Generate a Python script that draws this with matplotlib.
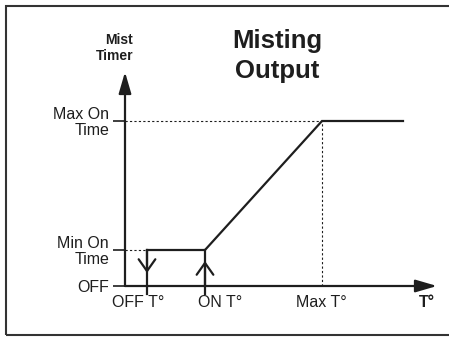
import matplotlib
matplotlib.use("Agg")
import matplotlib.pyplot as plt
from matplotlib.patches import Rectangle

plt.rcParams['font.family'] = ['Liberation Sans', 'DejaVu Sans']

# temperature set points along the x axis
temp_labels = ["OFF T°", "ON T°", "Max T°"]
temp_points = [2.2, 8.0, 19.7]
label_shift = [-6.5, 11.0, -0.7]   # horizontal nudge of each label, points

# mist timer levels on the y axis
timer_labels = ["OFF", "Min On\nTime", "Max On\nTime"]
timer_levels = [0.0, 3.6, 16.5]

# output curve: min on-time step, ramp, then max on-time plateau
curve_x = [2.2, 8.0, 19.7, 27.8]
curve_y = [3.6, 3.6, 16.5, 16.5]

x_end = 31.2
y_end = 21.4
stem_bottom = -0.8
off_arrow_tip = 1.3
on_arrow_tip = 2.5

ink = '#1e1e1e'

fig = plt.figure(figsize=(4.49, 3.37), dpi=100)
ax = fig.add_axes([125 / 449, 51 / 337, 312 / 449, 214 / 337])
ax.set_xlim(0, x_end)
ax.set_ylim(0, y_end)
for s in ax.spines.values():
    s.set_visible(False)
ax.patch.set_visible(False)

# axes with arrow heads
arrow_kw = dict(arrowstyle='-|>,head_length=1.3,head_width=0.38', lw=1.6,
                color=ink, shrinkA=0, shrinkB=0)
ax.annotate('', xy=(x_end, 0), xytext=(0, 0), arrowprops=arrow_kw, annotation_clip=False)
ax.annotate('', xy=(0, y_end), xytext=(0, 0), arrowprops=arrow_kw, annotation_clip=False)

# y ticks
ax.set_xticks([])
ax.set_yticks(timer_levels)
ax.set_yticklabels(timer_labels, fontsize=11.5, color=ink)
ax.tick_params(axis='y', direction='out', length=8.5, width=1.2, color=ink, pad=3)
plt.setp(ax.get_yticklabels(), linespacing=1.05)

off_t, on_t, max_t = temp_points
min_on, max_on = timer_levels[1], timer_levels[2]

# dotted guides
dot = dict(color=ink, lw=0.8, linestyle=(0, (2, 2)))
ax.plot([0, off_t], [min_on, min_on], **dot)
ax.plot([0, max_t], [max_on, max_on], **dot)
ax.plot([max_t, max_t], [0, max_on], **dot)

# output curve and the two switching stems
ax.plot(curve_x, curve_y, color=ink, lw=1.6, solid_joinstyle='miter')
ax.plot([off_t, off_t], [stem_bottom, min_on], color=ink, lw=1.6, clip_on=False)
ax.plot([on_t, on_t], [stem_bottom, min_on], color=ink, lw=1.6, clip_on=False)

chev = dict(arrowstyle='->,head_length=0.85,head_width=0.6', lw=1.6, color=ink,
            shrinkA=0, shrinkB=0)
ax.annotate('', xy=(off_t, off_arrow_tip), xytext=(off_t, min_on), arrowprops=chev)
ax.annotate('', xy=(on_t, on_arrow_tip), xytext=(on_t, 0), arrowprops=chev)

# temperature labels below the axis
for lab, xp, dx in zip(temp_labels, temp_points, label_shift):
    ax.annotate(lab, xy=(xp, 0), xytext=(dx, -12), textcoords='offset points',
                ha='center', va='center', fontsize=11.5, color=ink, annotation_clip=False)
ax.annotate('T°', xy=(30.2, 0), xytext=(0, -12), textcoords='offset points',
            ha='center', va='center', fontsize=11.5, fontweight='bold', color=ink,
            annotation_clip=False)

# titles
fig.text(133 / 449, 289 / 337, "Mist\nTimer", ha='right', va='center', fontsize=10,
         fontweight='bold', color=ink, linespacing=1.15)
fig.text(277 / 449, 281 / 337, "Misting\nOutput", ha='center', va='center', fontsize=18.5,
         fontweight='bold', color=ink, linespacing=1.35)

# outer frame
fig.add_artist(Rectangle((6 / 449, 2 / 337), 1.0, 329 / 337, fill=False, lw=1.5,
                         edgecolor='#333333', transform=fig.transFigure, clip_on=False))

fig.savefig('out.png', dpi=100)
